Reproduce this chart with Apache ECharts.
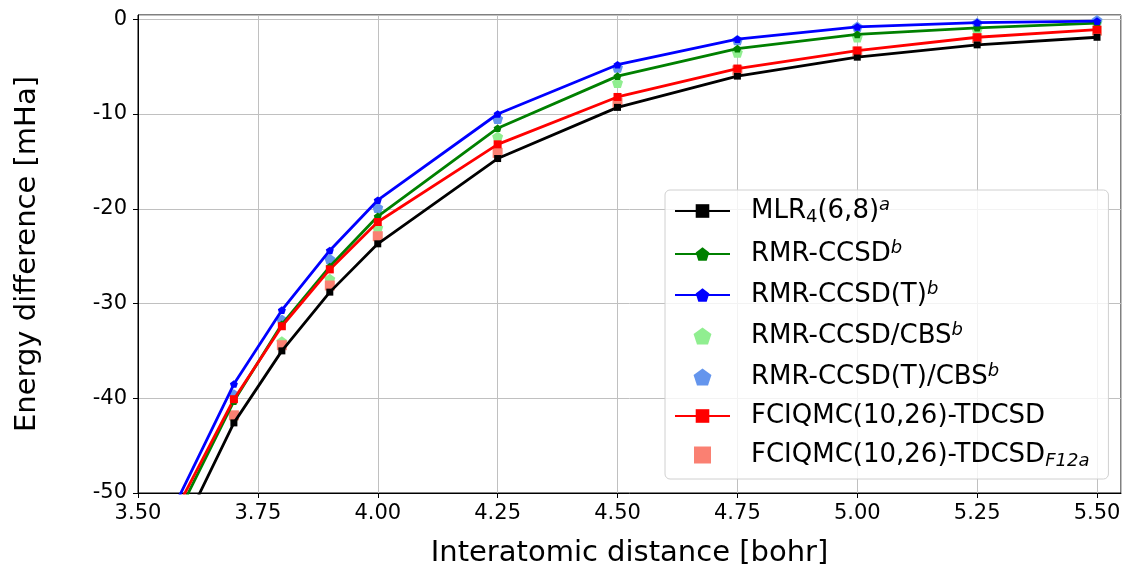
<!DOCTYPE html>
<html>
<head>
<meta charset="utf-8">
<script src="https://cdn.jsdelivr.net/npm/echarts@6/dist/echarts.min.js"></script>
<style>
html,body{margin:0;padding:0;background:#fff;}
#chart{width:1122px;height:567px;}
</style>
</head>
<body>
<div id="chart"></div>
<script>
// Interatomic distances [bohr]
const distances = [3.5, 3.7, 3.8, 3.9, 4.0, 4.25, 4.5, 4.75, 5.0, 5.25, 5.5];
// Energy differences [mHa]
const mlr      = [-63.4, -42.6, -35.0, -28.8, -23.7, -14.7, -9.3, -6.0, -4.0, -2.7, -1.9];
const ccsd     = [-60.7, -40.3, -32.2, -26.1, -20.8, -11.5, -6.0, -3.1, -1.6, -0.9, -0.4];
const ccsdT    = [-59.3, -38.5, -30.7, -24.4, -19.1, -10.0, -4.8, -2.1, -0.8, -0.35, -0.2];
const ccsdCbs  = [null, -41.9, -34.0, -27.4, -22.0, -12.4, -6.7, -3.5, -1.9, -1.1, -0.3];
const ccsdTCbs = [null, -39.6, -31.7, -25.3, -19.9, -10.5, -5.1, -2.2, -0.8, -0.4, -0.1];
const fciqmc   = [-59.5, -40.1, -32.4, -26.4, -21.4, -13.2, -8.2, -5.2, -3.3, -1.9, -1.1];
const fciqmcF12 = [null, -41.8, -34.4, -28.1, -22.9, -14.1, -8.8, -5.4, -3.4, -2.0, -1.2];

const seriesNames = ['MLR4', 'RMR-CCSD', 'RMR-CCSD(T)', 'RMR-CCSD/CBS', 'RMR-CCSD(T)/CBS', 'FCIQMC', 'FCIQMC-F12a'];
const legendRich = {
  'MLR4': '{g|}{n|MLR}{s|4}{n|(6,8)}{i|a}',
  'RMR-CCSD': '{g|}{n|RMR-CCSD}{i|b}',
  'RMR-CCSD(T)': '{g|}{n|RMR-CCSD(T)}{i|b}',
  'RMR-CCSD/CBS': '{g|}{n|RMR-CCSD/CBS}{i|b}',
  'RMR-CCSD(T)/CBS': '{g|}{n|RMR-CCSD(T)/CBS}{i|b}',
  'FCIQMC': '{g|}{n|FCIQMC(10,26)-TDCSD}',
  'FCIQMC-F12a': '{g|}{n|FCIQMC(10,26)-TDCSD}{si|F12a}'
};

const pentagon = 'path://M0,-1 L0.951,-0.309 L0.588,0.809 L-0.588,0.809 L-0.951,-0.309 Z';
const square = 'path://M0,0 L1,0 L1,1 L0,1 Z';
const FONT = 'DejaVu Sans';

function pairs(vals) {
  return distances.map((d, i) => [d, vals[i]]);
}

function lineSeries(name, vals, color, symbol, size) {
  return {
    name: name, type: 'line', data: pairs(vals),
    symbol: symbol, symbolSize: size, symbolKeepAspect: true,
    showAllSymbol: true, connectNulls: false, clip: true,
    lineStyle: {color: color, width: 2.8},
    itemStyle: {color: color},
    emphasis: {disabled: true}
  };
}
function scatterSeries(name, vals, color, symbol, size) {
  return {
    name: name, type: 'scatter', data: pairs(vals).filter(p => p[1] !== null),
    symbol: symbol, symbolSize: size, symbolKeepAspect: true, clip: true,
    itemStyle: {color: color, opacity: 1},
    emphasis: {disabled: true}
  };
}

const chart = echarts.init(document.getElementById('chart'), null, {renderer: 'canvas'});
chart.setOption({
  animation: false,
  backgroundColor: '#fff',
  textStyle: {fontFamily: FONT},
  grid: {left: 138, right: 1, top: 15, bottom: 74, show: true, borderColor: '#000', borderWidth: 1,
    containLabel: false, outerBoundsMode: 'none'},
  xAxis: {
    type: 'value', min: 3.5, max: 5.55, interval: 0.25,
    name: 'Interatomic distance [bohr]', nameLocation: 'middle', nameGap: 46,
    nameTextStyle: {fontFamily: FONT, fontSize: 29, color: '#000'},
    axisLine: {onZero: false, lineStyle: {color: '#000', width: 1}},
    axisTick: {show: true, length: 5, lineStyle: {color: '#000'}},
    axisLabel: {fontFamily: FONT, fontSize: 21, color: '#000', margin: 10, showMaxLabel: false,
      formatter: v => v.toFixed(2)},
    splitLine: {show: true, lineStyle: {color: '#c0c0c0', width: 1}}
  },
  yAxis: {
    type: 'value', min: -50, max: 0.45, interval: 10,
    name: 'Energy difference [mHa]', nameLocation: 'middle', nameGap: 96,
    nameTextStyle: {fontFamily: FONT, fontSize: 29, color: '#000'},
    axisLine: {onZero: false, lineStyle: {color: '#000', width: 1}},
    axisTick: {show: true, length: 5, lineStyle: {color: '#000'}},
    axisLabel: {fontFamily: FONT, fontSize: 21, color: '#000', margin: 11, showMaxLabel: false},
    splitLine: {show: true, lineStyle: {color: '#c0c0c0', width: 1}}
  },
  legend: {
    show: true, orient: 'vertical', left: 665, top: 190,
    padding: [6, 19, 9, 9], itemGap: 13, itemWidth: 55, itemHeight: 17,
    backgroundColor: 'rgba(255,255,255,0.8)', borderColor: '#d0d0d0', borderWidth: 1, borderRadius: 5,
    selectedMode: false, symbolKeepAspect: true,
    data: seriesNames,
    formatter: name => legendRich[name],
    textStyle: {
      fontFamily: FONT, fontSize: 26, color: '#000',
      rich: {
        g: {width: 16, lineHeight: 30},
        n: {fontFamily: FONT, fontSize: 26, lineHeight: 30, color: '#000'},
        s: {fontFamily: FONT, fontSize: 18, lineHeight: 20, verticalAlign: 'bottom', color: '#000'},
        i: {fontFamily: FONT, fontSize: 18, fontStyle: 'italic', lineHeight: 20, verticalAlign: 'top', color: '#000'},
        si: {fontFamily: FONT, fontSize: 18, fontStyle: 'italic', lineHeight: 20, verticalAlign: 'bottom', color: '#000'}
      }
    }
  },
  series: [
    lineSeries('MLR4', mlr, '#000000', square, 7),
    lineSeries('RMR-CCSD', ccsd, '#008000', pentagon, 8),
    lineSeries('RMR-CCSD(T)', ccsdT, '#0000ff', pentagon, 8),
    scatterSeries('RMR-CCSD/CBS', ccsdCbs, '#90ee90', pentagon, 11),
    scatterSeries('RMR-CCSD(T)/CBS', ccsdTCbs, '#6495ed', pentagon, 11),
    lineSeries('FCIQMC', fciqmc, '#ff0000', square, 8),
    scatterSeries('FCIQMC-F12a', fciqmcF12, '#fa8072', square, 10)
  ]
});
</script>
</body>
</html>
